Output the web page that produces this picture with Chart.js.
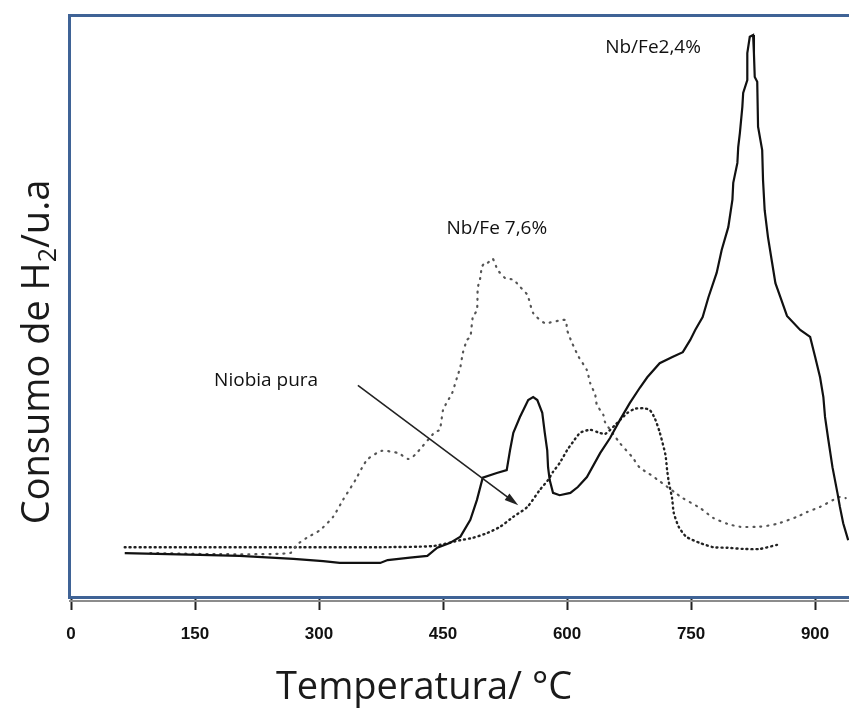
<!DOCTYPE html>
<html>
<head>
<meta charset="utf-8">
<title>TPR - Consumo de H2</title>
<script src="https://cdn.jsdelivr.net/npm/chart.js@4.4.1/dist/chart.umd.min.js"></script>
<style>
    html, body { margin: 0; padding: 0; background: #fff; }
    #wrap { width: 849px; height: 715px; }
</style>
</head>
<body>
<div id="wrap"><canvas id="tprChart" width="849" height="715"></canvas></div>
<script>
// Perfiles de reducción (TPR): temperatura en °C, consumo de H2 en u.a.

// Nb/Fe 2,4 % (línea continua)
const tempFe24 = [65, 156, 204, 269, 305, 325, 374, 383, 410, 431, 443, 458, 471, 483, 491, 498, 515, 527,
    531, 535, 543, 553, 559, 564, 570, 573, 576, 577, 579, 583, 591, 604, 613, 624, 640, 652, 664, 676,
    688, 697, 712, 728, 740, 749, 755, 764, 771, 781, 787, 795, 800, 801, 806, 807, 809, 812, 813, 818,
    818, 821, 825, 826, 827, 830, 831, 836, 837, 839, 843, 848, 852, 858, 866, 882, 894, 900, 906, 910,
    912, 916, 921, 927, 930, 934, 940];
const h2Fe24 = [7.7, 7.4, 7.2, 6.7, 6.3, 6.0, 6.0, 6.5, 6.9, 7.2, 8.6, 9.4, 10.5, 13.4, 16.8, 20.6, 21.4, 21.9,
    25.3, 28.3, 31.0, 33.9, 34.4, 33.9, 31.7, 28.3, 25.3, 22.4, 20.2, 18.0, 17.6, 18.0, 19.0, 20.7, 24.8, 27.4, 30.5, 33.4,
    36.0, 37.8, 40.2, 41.3, 42.1, 44.2, 45.9, 48.1, 51.5, 55.7, 59.6, 63.5, 68.2, 71.1, 74.5, 77.2, 79.6, 84.1, 86.5, 88.7,
    93.3, 96.1, 96.4, 93.3, 89.2, 88.4, 80.7, 76.7, 71.6, 66.4, 61.8, 57.4, 53.9, 51.5, 48.3, 45.9, 44.7, 41.3, 37.8, 34.4,
    31.0, 27.1, 22.4, 18.0, 15.6, 12.8, 9.9];

// Nb/Fe 7,6 % (puntos grises)
const tempFe76 = [96, 180, 265, 273, 285, 301, 317, 329, 344, 352, 359, 376, 396, 408, 416, 440, 446, 450,
    455, 461, 467, 471, 474, 479, 483, 486, 491, 492, 495, 497, 501, 504, 510, 516, 525, 535, 543, 552,
    559, 573, 598, 600, 606, 614, 624, 628, 634, 636, 644, 646, 664, 679, 688, 698, 710, 731, 740, 761,
    777, 794, 809, 833, 854, 878, 890, 906, 922, 930, 937];
const h2Fe76 = [7.7, 7.5, 7.7, 9.1, 10.3, 11.6, 13.9, 16.8, 20.2, 22.3, 23.8, 25.2, 24.8, 23.8, 24.5, 28.4, 28.8, 32.2,
    33.6, 35.1, 37.8, 39.6, 42.0, 44.2, 44.7, 48.1, 49.3, 53.1, 54.8, 56.7, 57.5, 57.4, 58.1, 56.2, 54.8, 54.5, 53.3, 51.9,
    48.8, 47.1, 47.6, 45.9, 43.7, 41.3, 39.0, 36.8, 34.8, 33.1, 31.3, 30.1, 26.5, 24.1, 22.3, 21.4, 20.2, 18.0, 17.1, 15.4,
    13.7, 12.7, 12.2, 12.2, 12.7, 13.9, 14.7, 15.6, 16.8, 17.3, 17.1];

// Niobia pura (punteada)
const tempNb = [65, 156, 277, 374, 438, 471, 486, 503, 519, 535, 552, 567, 577, 583, 591, 600, 607, 616,
    628, 637, 646, 658, 673, 682, 692, 700, 706, 712, 719, 721, 723, 727, 729, 735, 744, 761, 777, 794,
    813, 833, 854];
const h2Nb = [8.7, 8.7, 8.7, 8.7, 8.9, 9.9, 10.3, 11.1, 12.2, 13.9, 15.6, 18.5, 20.2, 21.6, 23.1, 25.3, 26.7, 28.3,
    28.8, 28.4, 28.1, 29.6, 31.7, 32.4, 32.5, 32.2, 30.8, 28.4, 24.5, 21.9, 19.9, 17.1, 14.6, 12.2, 10.5, 9.4, 8.7, 8.6,
    8.4, 8.4, 9.1];

const xTicks = [0, 150, 300, 450, 600, 750, 900];

// Etiquetas de las curvas: texto, temperatura, consumo
const curveLabels = [
    ['Nb/Fe2,4%', 704, 94.3],
    ['Nb/Fe 7,6%', 515, 63.2],
    ['Niobia pura', 236, 37.2]
];
// Flecha que señala la niobia pura (inicio y fin en unidades del gráfico)
const arrowFrom = [347, 36.4];
const arrowTo = [541, 15.9];

const toPoints = (xs, ys) => xs.map((t, i) => ({ x: t, y: ys[i] }));

const textFont = '"Open Sans", "Noto Sans", sans-serif';

const decorPlugin = {
    id: 'decor',
    afterDraw(chart) {
        const { ctx, chartArea: a, scales: { x, y } } = chart;
        ctx.save();

        // marco azul del área de trazado
        ctx.strokeStyle = '#3f6396';
        ctx.lineWidth = 3;
        ctx.strokeRect(a.left - 1.5, a.top + 1.5, a.right - a.left + 20, a.bottom - a.top - 2);

        // línea del eje X
        ctx.strokeStyle = '#8c8c8c';
        ctx.lineWidth = 2;
        ctx.beginPath();
        ctx.moveTo(a.left - 2, a.bottom + 3);
        ctx.lineTo(a.right, a.bottom + 3);
        ctx.stroke();

        // etiquetas de las curvas
        ctx.fillStyle = '#111';
        ctx.font = '19px ' + textFont;
        ctx.textAlign = 'center';
        ctx.textBaseline = 'middle';
        curveLabels.forEach(([txt, t, v]) => {
            ctx.fillText(txt, x.getPixelForValue(t), y.getPixelForValue(v));
        });

        // flecha
        const x0 = x.getPixelForValue(arrowFrom[0]), y0 = y.getPixelForValue(arrowFrom[1]);
        const x1 = x.getPixelForValue(arrowTo[0]), y1 = y.getPixelForValue(arrowTo[1]);
        const ang = Math.atan2(y1 - y0, x1 - x0);
        ctx.strokeStyle = '#222';
        ctx.lineWidth = 1.6;
        ctx.beginPath();
        ctx.moveTo(x0, y0);
        ctx.lineTo(x1 - 10 * Math.cos(ang), y1 - 10 * Math.sin(ang));
        ctx.stroke();
        ctx.fillStyle = '#222';
        ctx.beginPath();
        ctx.moveTo(x1, y1);
        ctx.lineTo(x1 - 14 * Math.cos(ang) + 4 * Math.sin(ang), y1 - 14 * Math.sin(ang) - 4 * Math.cos(ang));
        ctx.lineTo(x1 - 14 * Math.cos(ang) - 4 * Math.sin(ang), y1 - 14 * Math.sin(ang) + 4 * Math.cos(ang));
        ctx.closePath();
        ctx.fill();

        // título eje X
        ctx.fillStyle = '#1a1a1a';
        ctx.font = '38px ' + textFont;
        ctx.fillText('Temperatura/ °C', 424, 688);

        // título eje Y con subíndice
        const big = '38px ' + textFont, small = '25px ' + textFont;
        const p1 = 'Consumo de H', p2 = '2', p3 = '/u.a';
        ctx.font = big;
        const w1 = ctx.measureText(p1).width, w3 = ctx.measureText(p3).width;
        ctx.font = small;
        const w2 = ctx.measureText(p2).width;
        const total = w1 + w2 + w3;
        ctx.translate(38, 352);
        ctx.rotate(-Math.PI / 2);
        ctx.textAlign = 'left';
        ctx.font = big;
        ctx.fillText(p1, -total / 2, 0);
        ctx.font = small;
        ctx.fillText(p2, -total / 2 + w1, 11);
        ctx.font = big;
        ctx.fillText(p3, -total / 2 + w1 + w2, 0);

        ctx.restore();
    }
};

const ctx = document.getElementById('tprChart');
new Chart(ctx, {
    type: 'line',
    data: {
        datasets: [
            {
                label: 'Nb/Fe 2,4%',
                data: toPoints(tempFe24, h2Fe24),
                borderColor: '#111',
                borderWidth: 2.2,
                pointRadius: 0,
                tension: 0
            },
            {
                label: 'Nb/Fe 7,6%',
                data: toPoints(tempFe76, h2Fe76),
                borderColor: '#555',
                borderWidth: 2.2,
                borderDash: [1, 6],
                borderCapStyle: 'round',
                pointRadius: 0,
                tension: 0.2
            },
            {
                label: 'Niobia pura',
                data: toPoints(tempNb, h2Nb),
                borderColor: '#222',
                borderWidth: 2.4,
                borderDash: [1, 4],
                borderCapStyle: 'round',
                pointRadius: 0,
                tension: 0.2
            }
        ]
    },
    options: {
        responsive: false,
        animation: false,
        layout: { padding: { left: 71, right: 0, top: 14, bottom: 0 } },
        plugins: {
            legend: { display: false },
            tooltip: { enabled: false }
        },
        scales: {
            x: {
                type: 'linear',
                min: 0,
                max: 941,
                afterBuildTicks: (scale) => { scale.ticks = xTicks.map(v => ({ value: v })); },
                afterFit: (scale) => { scale.height = 117; },
                border: { display: false },
                grid: {
                    drawOnChartArea: false,
                    drawTicks: true,
                    tickLength: 12,
                    tickColor: '#222',
                    tickWidth: 2
                },
                ticks: {
                    padding: 14,
                    color: '#111',
                    font: { family: '"Liberation Sans Narrow", "Liberation Sans", Arial, sans-serif', size: 17, weight: 'bold' },
                    maxRotation: 0
                }
            },
            y: {
                display: false,
                min: 0,
                max: 100
            }
        }
    },
    plugins: [decorPlugin]
});
</script>
</body>
</html>
